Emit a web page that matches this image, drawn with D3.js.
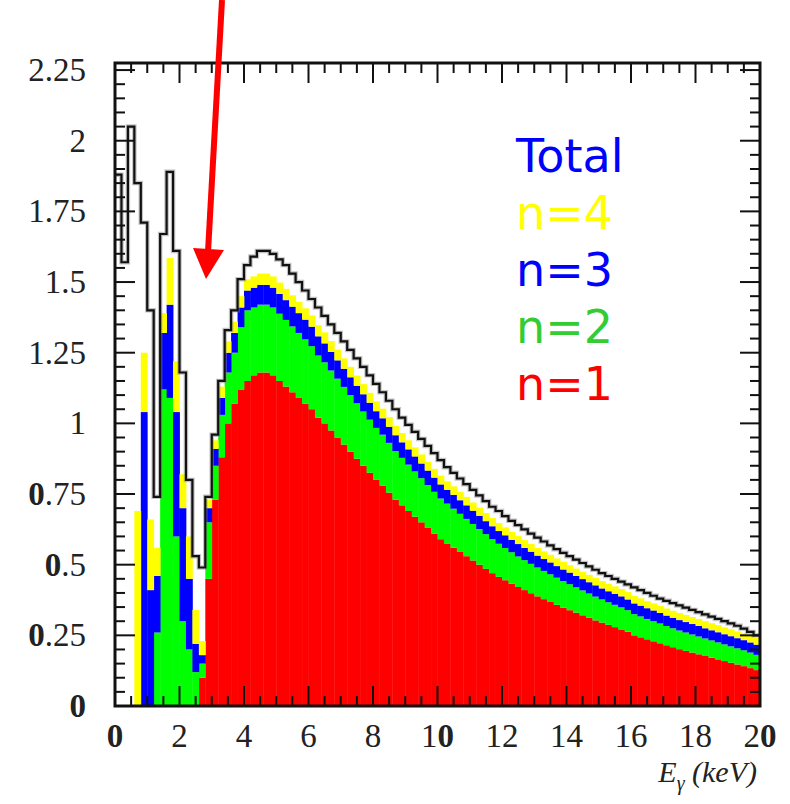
<!DOCTYPE html>
<html lang="en">
<head>
<meta charset="UTF-8">
<script src="https://d3js.org/d3.v7.min.js"></script>
<title>E gamma spectrum</title>
<style>
  body { margin: 0; background: #fff; }
</style>
</head>
<body>
<div id="canvas"></div>
<script>
// bins of 0.2 keV from 0 to 20 keV
const binWidth = 0.2
const xTicks = [0, 2, 4, 6, 8, 10, 12, 14, 16, 18, 20]
const yTicks = [0, 0.25, 0.5, 0.75, 1, 1.25, 1.5, 1.75, 2, 2.25]
const yTickLabels = ["0", "0.25", "0.5", "0.75", "1", "1.25", "1.5", "1.75", "2", "2.25"]

const n1 = [
  0, 0, 0, 0, 0, 0, 0, 0, 0, 0,
  0, 0, 0, 0.10, 0.45, 0.73, 0.88, 1.00, 1.07, 1.12,
  1.15, 1.17, 1.18, 1.18, 1.17, 1.15, 1.13, 1.11, 1.09, 1.07,
  1.05, 1.02, 1.00, 0.975, 0.95, 0.925, 0.90, 0.875, 0.85, 0.825,
  0.80, 0.78, 0.755, 0.73, 0.71, 0.69, 0.67, 0.65, 0.63, 0.61,
  0.59, 0.575, 0.56, 0.545, 0.53, 0.515, 0.50, 0.485, 0.47, 0.457,
  0.445, 0.433, 0.421, 0.41, 0.399, 0.388, 0.378, 0.368, 0.358, 0.348,
  0.339, 0.33, 0.321, 0.312, 0.303, 0.295, 0.287, 0.279, 0.271, 0.263,
  0.25, 0.243, 0.236, 0.229, 0.222, 0.215, 0.208, 0.201, 0.195, 0.189,
  0.183, 0.177, 0.171, 0.165, 0.159, 0.153, 0.147, 0.141, 0.134, 0.127
]
const n2 = [
  0, 0, 0, 0, 0, 0, 0.26, 1.12, 1.09, 0.6,
  0.3, 0.2, 0.12, 0.05, 0.2, 0.12, 0.15, 0.18, 0.18, 0.22,
  0.25, 0.24, 0.24, 0.24, 0.24, 0.238, 0.236, 0.233, 0.23, 0.227,
  0.223, 0.22, 0.216, 0.212, 0.208, 0.204, 0.2, 0.196, 0.192, 0.188,
  0.184, 0.18, 0.176, 0.172, 0.168, 0.164, 0.16, 0.156, 0.152, 0.148,
  0.144, 0.141, 0.138, 0.135, 0.132, 0.129, 0.126, 0.123, 0.12, 0.117,
  0.114, 0.111, 0.108, 0.106, 0.104, 0.102, 0.1, 0.098, 0.096, 0.094,
  0.092, 0.09, 0.088, 0.086, 0.084, 0.082, 0.08, 0.079, 0.078, 0.076,
  0.075, 0.074, 0.072, 0.071, 0.07, 0.068, 0.067, 0.066, 0.065, 0.064,
  0.063, 0.062, 0.061, 0.06, 0.059, 0.058, 0.057, 0.056, 0.055, 0.054
]
const n3 = [
  0, 0, 0, 0, 1.04, 0.41, 0.2, 0.2, 0.33, 0.44,
  0.4, 0.25, 0.1, 0.03, 0.05, 0.06, 0.06, 0.07, 0.07, 0.07,
  0.07, 0.07, 0.07, 0.07, 0.07, 0.07, 0.07, 0.07, 0.07, 0.07,
  0.069, 0.068, 0.067, 0.066, 0.065, 0.064, 0.063, 0.062, 0.061, 0.06,
  0.059, 0.058, 0.057, 0.056, 0.055, 0.054, 0.053, 0.052, 0.051, 0.05,
  0.05, 0.049, 0.049, 0.048, 0.048, 0.047, 0.047, 0.046, 0.046, 0.045,
  0.045, 0.044, 0.044, 0.043, 0.043, 0.042, 0.042, 0.042, 0.041, 0.041,
  0.041, 0.04, 0.04, 0.04, 0.04, 0.039, 0.039, 0.039, 0.039, 0.038,
  0.038, 0.038, 0.038, 0.038, 0.037, 0.037, 0.037, 0.037, 0.037, 0.037,
  0.037, 0.036, 0.036, 0.036, 0.036, 0.036, 0.036, 0.036, 0.036, 0.036
]
const n4 = [
  0, 0, 0, 0.69, 0.21, 0.25, 0.1, 0.07, 0.165, 0.18,
  0.12, 0.15, 0.12, 0.05, 0.03, 0.03, 0.04, 0.04, 0.04, 0.04,
  0.04, 0.04, 0.04, 0.04, 0.04, 0.04, 0.04, 0.04, 0.04, 0.04,
  0.04, 0.039, 0.039, 0.038, 0.038, 0.037, 0.037, 0.036, 0.036, 0.035,
  0.035, 0.034, 0.034, 0.033, 0.033, 0.032, 0.032, 0.032, 0.031, 0.031,
  0.031, 0.03, 0.03, 0.03, 0.03, 0.029, 0.029, 0.029, 0.029, 0.028,
  0.028, 0.028, 0.028, 0.028, 0.027, 0.027, 0.027, 0.027, 0.027, 0.027,
  0.026, 0.026, 0.026, 0.026, 0.026, 0.026, 0.026, 0.026, 0.026, 0.026,
  0.026, 0.026, 0.025, 0.025, 0.025, 0.025, 0.025, 0.025, 0.025, 0.025,
  0.025, 0.025, 0.025, 0.025, 0.024, 0.024, 0.024, 0.024, 0.024, 0.024
]
const total = [
  1.88, 1.57, 2.05, 1.85, 1.71, 1.40, 0.74, 1.67, 1.89, 1.61,
  1.18, 0.80, 0.53, 0.49, 0.74, 0.96, 1.15, 1.33, 1.40, 1.51,
  1.56, 1.59, 1.61, 1.61, 1.60, 1.58, 1.56, 1.53, 1.50, 1.47,
  1.44, 1.41, 1.38, 1.35, 1.32, 1.29, 1.26, 1.23, 1.20, 1.17,
  1.14, 1.11, 1.08, 1.05, 1.02, 0.995, 0.97, 0.945, 0.92, 0.895,
  0.87, 0.845, 0.825, 0.805, 0.785, 0.765, 0.745, 0.725, 0.705, 0.69,
  0.672, 0.655, 0.64, 0.625, 0.61, 0.596, 0.582, 0.568, 0.555, 0.542,
  0.53, 0.518, 0.506, 0.494, 0.482, 0.47, 0.46, 0.45, 0.44, 0.43,
  0.42, 0.41, 0.40, 0.39, 0.38, 0.372, 0.364, 0.356, 0.348, 0.34,
  0.332, 0.324, 0.316, 0.308, 0.30, 0.292, 0.284, 0.274, 0.262, 0.25
]

const legendItems = [
  {label: "Total", color: "#0000ff"},
  {label: "n=4", color: "#ffff00"},
  {label: "n=3", color: "#0000ff"},
  {label: "n=2", color: "#33cc33"},
  {label: "n=1", color: "#ff0000"}
]
const seriesKeys = ["n1", "n2", "n3", "n4"]
const fillColors = {n1: "#ff0000", n2: "#00ff00", n3: "#0000ff", n4: "#ffff00"}

const W = 790, H = 804
const padL = 115, padR = 760, padT = 63, padB = 706

const svg = d3.select("#canvas").append("svg").attr("width", W).attr("height", H)
svg.append("rect").attr("width", W).attr("height", H).attr("fill", "#fff")

const x = d3.scaleLinear().domain([0, 20]).range([padL, padR])
const y = d3.scaleLinear().domain([0, 2.275]).range([padB, padT])

const bins = n1.map((v, i) => ({x0: i * binWidth, n1: v, n2: n2[i], n3: n3[i], n4: n4[i], total: total[i]}))
const stacked = d3.stack().keys(seriesKeys)(bins)

const plot = svg.append("g")
stacked.forEach(layer => {
  plot.append("g").selectAll("rect")
    .data(layer.filter(d => d[1] - d[0] > 0))
    .enter().append("rect")
    .attr("x", d => x(d.data.x0))
    .attr("width", d => x(d.data.x0 + binWidth) - x(d.data.x0) + 0.4)
    .attr("y", d => y(d[1]))
    .attr("height", d => y(d[0]) - y(d[1]))
    .attr("fill", fillColors[layer.key])
})

// total histogram outline
const pts = bins.map(d => [d.x0, d.total])
pts.push([20, total[total.length - 1]])
const stepLine = d3.line().x(d => x(d[0])).y(d => y(d[1])).curve(d3.curveStepAfter)
svg.append("path").attr("d", stepLine(pts)).attr("fill", "none")
  .attr("stroke", "#888").attr("stroke-width", 4.5).attr("stroke-opacity", 0.5)
svg.append("path").attr("d", stepLine(pts)).attr("fill", "none")
  .attr("stroke", "#111").attr("stroke-width", 2.2)

// ticks on all four sides, pointing inward
const ticks = svg.append("g").attr("stroke", "#111").attr("stroke-width", 2)
const xMinor = d3.range(0, 20.01, 0.5)
const yMinor = d3.range(0, 2.2751, 0.05)
xMinor.forEach(v => {
  const len = Math.abs(v / 2 - Math.round(v / 2)) < 1e-6 ? 20 : 10
  ticks.append("line").attr("x1", x(v)).attr("x2", x(v)).attr("y1", padB).attr("y2", padB - len)
  ticks.append("line").attr("x1", x(v)).attr("x2", x(v)).attr("y1", padT).attr("y2", padT + len)
})
yMinor.forEach(v => {
  const len = Math.abs(v / 0.25 - Math.round(v / 0.25)) < 1e-6 ? 20 : 10
  ticks.append("line").attr("x1", padL).attr("x2", padL + len).attr("y1", y(v)).attr("y2", y(v))
  ticks.append("line").attr("x1", padR).attr("x2", padR - len).attr("y1", y(v)).attr("y2", y(v))
})

svg.append("rect").attr("x", padL).attr("y", padT).attr("width", padR - padL).attr("height", padB - padT)
  .attr("fill", "none").attr("stroke", "#111").attr("stroke-width", 3)

// tick labels, serif, zeros a bit heavier like the scan
function addLabel(txt, px, py, anchor) {
  const t = svg.append("text").attr("x", px).attr("y", py).attr("text-anchor", anchor)
    .attr("font-family", "Liberation Serif, DejaVu Serif, serif").attr("font-size", 33).attr("fill", "#222")
  txt.split("").forEach(ch => {
    t.append("tspan").text(ch).attr("font-weight", ch === "0" ? "bold" : "normal")
  })
}
xTicks.forEach(v => addLabel(String(v), x(v), 747, "middle"))
yTicks.forEach((v, i) => addLabel(yTickLabels[i], 86, y(v) + 11, "end"))

// axis title
const xt = svg.append("text").attr("x", 757).attr("y", 782).attr("text-anchor", "end")
  .attr("font-family", "Liberation Serif, DejaVu Serif, serif").attr("font-size", 30)
  .attr("font-style", "italic").attr("fill", "#222")
xt.append("tspan").text("E")
xt.append("tspan").text("γ").attr("font-size", 20).attr("dy", 8)
xt.append("tspan").text(" (keV)").attr("dy", -8)

// legend
svg.append("g").selectAll("text").data(legendItems).enter().append("text")
  .attr("x", 516).attr("y", (d, i) => 172 + i * 57)
  .attr("font-family", "'Comic Sans MS', 'DejaVu Sans', sans-serif").attr("font-size", 46)
  .attr("fill", d => d.color).text(d => d.label)

// red arrow pointing at the gap
svg.append("line").attr("x1", 222).attr("y1", 0).attr("x2", 208).attr("y2", 252)
  .attr("stroke", "#ff0000").attr("stroke-width", 6)
svg.append("path").attr("d", "M193,248 L224,250 L206,279 Z").attr("fill", "#ff0000")
</script>
</body>
</html>
